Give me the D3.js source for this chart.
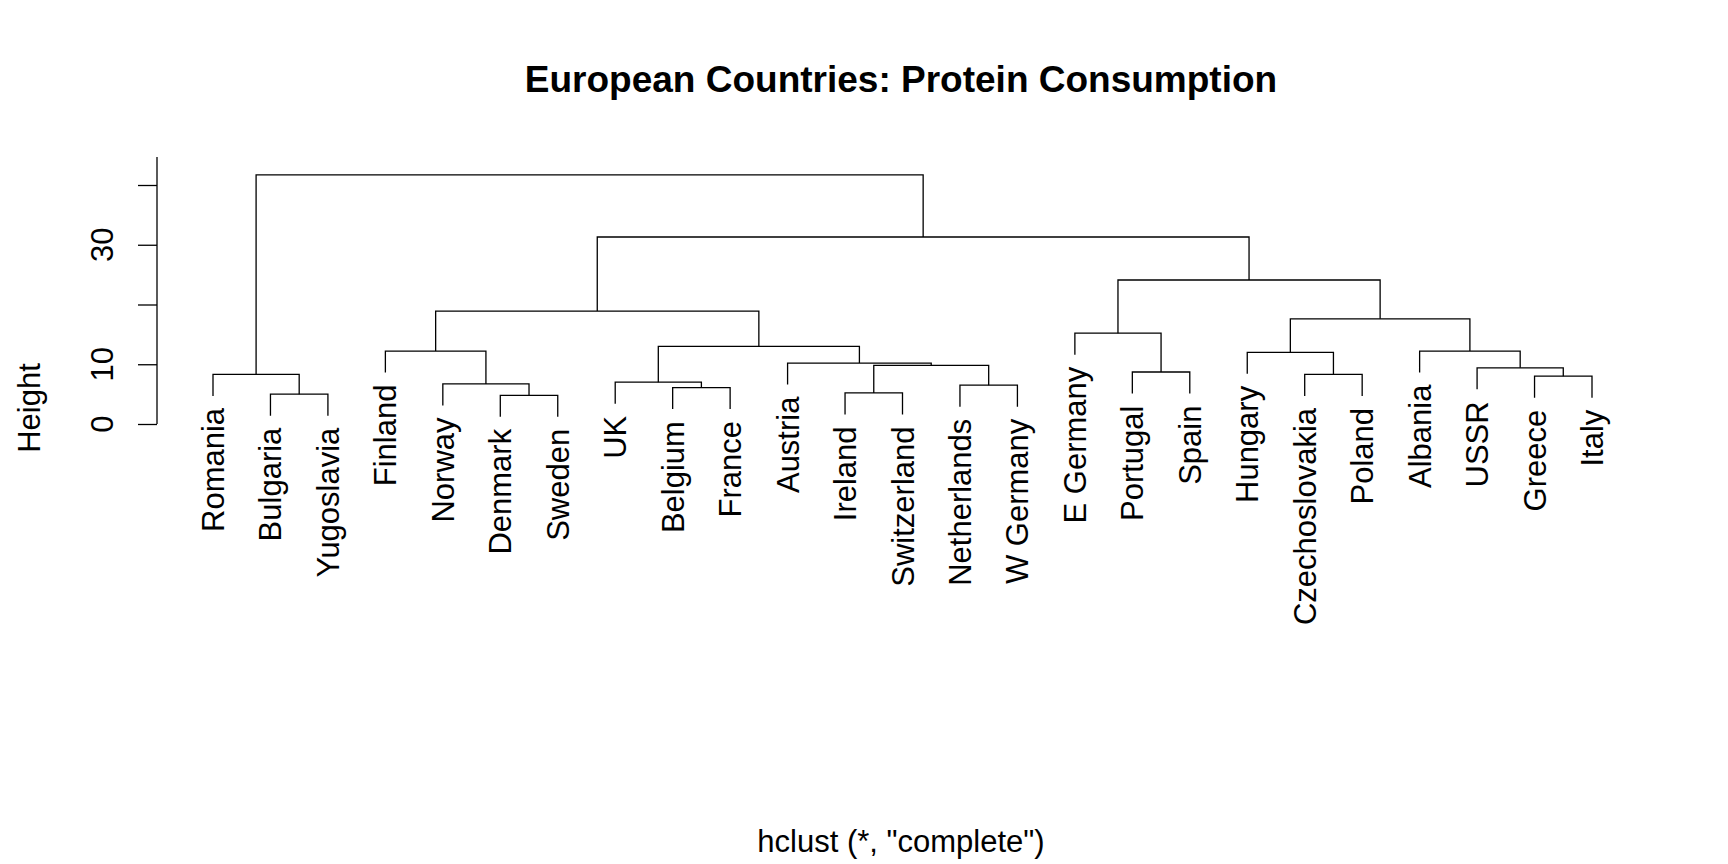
<!DOCTYPE html>
<html><head><meta charset="utf-8">
<script src="https://cdn.jsdelivr.net/npm/d3@7"></script>
<style>body{margin:0;background:#fff}text{font-family:"Liberation Sans",Arial,sans-serif}</style>
</head><body>
<script>
// leaves in plotted order
var leaves = ["Romania","Bulgaria","Yugoslavia","Finland","Norway","Denmark","Sweden","UK","Belgium","France","Austria","Ireland","Switzerland","Netherlands","W Germany","E Germany","Portugal","Spain","Hungary","Czechoslovakia","Poland","Albania","USSR","Greece","Italy"];
// R-style merges: negative = leaf (1-based), positive = earlier merge
var mergeLeft  = [-2, -1, -6, -5, -4, -9, -8, -12, -14, 8, -11, 7, 5, -17, -16, -20, -19, -24, -23, -22, 17, 15, 13, 2];
var mergeRight = [-3, 1, -7, 3, 4, -10, 6, -13, -15, 9, 10, 11, 12, -18, 14, -21, 16, -25, 18, 19, 20, 21, 22, 23];
var mergeHeight = [5.0, 8.3, 4.8, 6.7, 12.2, 6.1, 7.0, 5.2, 6.5, 9.8, 10.2, 13.0, 18.9, 8.7, 15.2, 8.3, 12.0, 8.0, 9.4, 12.2, 17.6, 24.1, 31.3, 41.7];
var yTicks = [0, 10, 20, 30, 40];
var yLabels = [0, 10, 30];
var hang = 3.6;

var W = 1728, H = 864;
var svg = d3.select("body").append("svg").attr("width", W).attr("height", H);
var x = d3.scaleLinear().domain([1, leaves.length]).range([213, 1592]);
var y = d3.scaleLinear().domain([0, 40]).range([424, 185]);

var mx = [];
function nodeX(k) { return k < 0 ? -k : mx[k - 1]; }
function nodeY(k, parentH) { return k < 0 ? parentH - hang : mergeHeight[k - 1]; }
mergeLeft.forEach(function (l, i) { mx.push((nodeX(l) + nodeX(mergeRight[i])) / 2); });

var g = svg.append("g").attr("fill", "none").attr("stroke", "#000").attr("stroke-width", 1.3);
mergeLeft.forEach(function (l, i) {
    var r = mergeRight[i], h = mergeHeight[i];
    var path = d3.path();
    path.moveTo(x(nodeX(l)), y(nodeY(l, h)));
    path.lineTo(x(nodeX(l)), y(h));
    path.lineTo(x(nodeX(r)), y(h));
    path.lineTo(x(nodeX(r)), y(nodeY(r, h)));
    g.append("path").attr("d", path.toString());
});

// leaf labels
var leafBottom = {};
mergeLeft.forEach(function (l, i) {
    [l, mergeRight[i]].forEach(function (k) { if (k < 0) leafBottom[-k] = mergeHeight[i] - hang; });
});
svg.selectAll("text.leaf").data(leaves).enter().append("text")
    .attr("class", "leaf")
    .attr("transform", function (d, i) { return "translate(" + (x(i + 1) + 11) + "," + (y(leafBottom[i + 1]) + 12) + ") rotate(-90)"; })
    .attr("text-anchor", "end").attr("font-size", 31).text(function (d) { return d; });

// y axis
var ax = svg.append("g").attr("transform", "translate(157,0)")
    .call(d3.axisLeft(y).tickValues(yTicks).tickSize(19).tickPadding(0).tickFormat(function () { return ""; }));
ax.select(".domain").attr("d", "M0," + y(0) + "V157").attr("stroke-width", 1.3);
ax.selectAll(".tick line").attr("stroke-width", 1.3);
svg.selectAll("text.yl").data(yLabels).enter().append("text")
    .attr("class", "yl")
    .attr("transform", function (d) { return "translate(113," + y(d) + ") rotate(-90)"; })
    .attr("text-anchor", "middle").attr("font-size", 31).text(function (d) { return d; });

svg.append("text").attr("x", 901).attr("y", 92).attr("text-anchor", "middle")
    .attr("font-size", 37).attr("font-weight", "bold").text("European Countries: Protein Consumption");
svg.append("text").attr("x", 901).attr("y", 852).attr("text-anchor", "middle")
    .attr("font-size", 31).text('hclust (*, "complete")');
svg.append("text").attr("transform", "translate(40,408) rotate(-90)").attr("text-anchor", "middle")
    .attr("font-size", 31).text("Height");
</script>
</body></html>
